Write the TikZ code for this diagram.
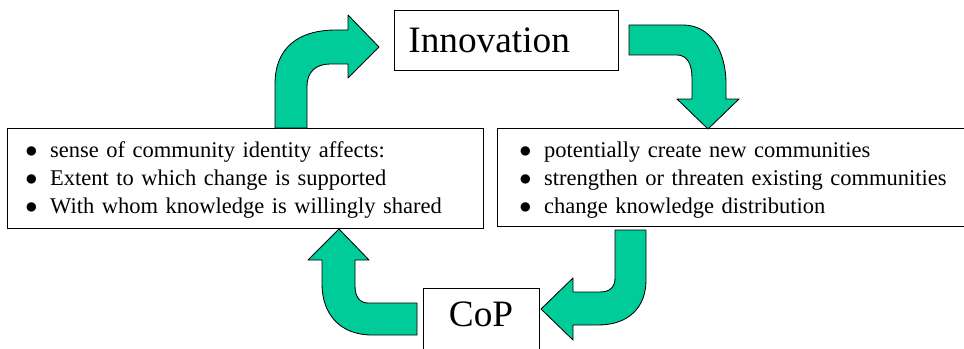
\documentclass[tikz,border=0pt]{standalone}
\usepackage{fontspec}
\setmainfont{Liberation Serif}
\usepackage{xcolor}
\usepackage{tikz}
\usetikzlibrary{shapes,arrows}

\definecolor{arrowgreen}{HTML}{00CC99}
\newcommand{\dotitem}{$\bullet$\hspace{9pt}}

\begin{document}
\begin{tikzpicture}[x=0.025cm, y=-0.025cm,
  box/.style={draw, line width=0.6pt, fill=white, inner ysep=0pt},
  bentarrow/.style={draw, line width=0.6pt, fill=arrowgreen, line join=round},
  items/.style={font=\fontsize{16}{20}\selectfont, align=left, inner ysep=0pt}]
\useasboundingbox (0,0) rectangle (964,348);
\clip (0,0) rectangle (964,348);

% the two title boxes
\node[box, anchor=north west, text width=4.9cm, align=left, inner xsep=0.35cm,
      text height=1.05cm, text depth=0.45cm, font=\fontsize{26.5}{30}\selectfont]
      (innov) at (394,10) {Innovation};
\node[box, anchor=north, minimum width=2.9cm,
      text height=0.95cm, text depth=0.85cm, font=\fontsize{26.5}{30}\selectfont]
      (cop) at (481,288) {CoP};

% the two lists
\node[box, items, anchor=north west, text height=0.725cm, text depth=1.775cm,
      text width=11cm, inner xsep=0.45cm]
      (identity) at (7,128)
      {\dotitem sense of community identity affects:\\
       \dotitem Extent to which change is supported\\
       \dotitem With whom knowledge is willingly shared};
\node[box, items, anchor=north west, text height=0.725cm, text depth=1.725cm,
      text width=11.2cm, inner xsep=0.55cm]
      (change) at (497,128)
      {\dotitem potentially create new communities\\
       \dotitem strengthen or threaten existing communities\\
       \dotitem change knowledge distribution};

% bent block arrows, clockwise
\path[bentarrow] (275,128) -- (275,84) .. controls (275,48) and (298,30) .. (336,30)
  -- (348,30) -- (348,15) -- (379,47) -- (348,78) -- (348,64) -- (330,64)
  .. controls (316,64) and (307,72) .. (307,86) -- (307,128) -- cycle;
\path[bentarrow] (629,25) -- (683,25) .. controls (710,25) and (726,50) .. (726,84)
  -- (726,99) -- (739,99) -- (708,129) -- (677,99) -- (692,99) -- (692,78)
  .. controls (692,64) and (687,55) .. (677,55) -- (629,55) -- cycle;
\path[bentarrow] (615,230) -- (646,230) -- (646,280) .. controls (646,308) and (628,325) .. (598,325)
  -- (573,325) -- (573,340) -- (541,309) -- (573,278) -- (573,292) -- (600,292)
  .. controls (610,292) and (615,287) .. (615,278) -- cycle;
\path[bentarrow] (417,303) -- (368,303) .. controls (360,303) and (355,297) .. (355,286)
  -- (355,260) -- (369,260) -- (339,229) -- (308,260) -- (322,260) -- (322,284)
  .. controls (322,314) and (340,335) .. (372,335) -- (417,335) -- cycle;

\end{tikzpicture}
\end{document}
